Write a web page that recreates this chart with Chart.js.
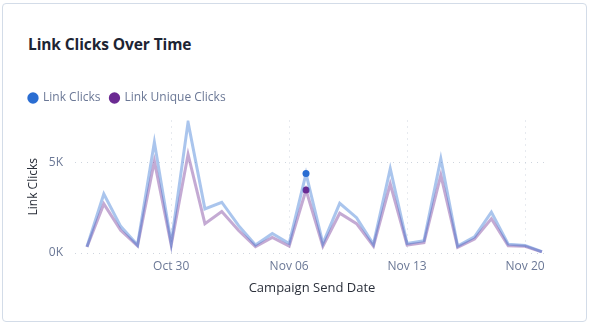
<!DOCTYPE html>
<html>
<head>
<meta charset="utf-8">
<script src="https://cdn.jsdelivr.net/npm/chart.js@4.4.1/dist/chart.umd.min.js"></script>
<style>
  html, body { margin: 0; padding: 0; background: #fff; }
  body { width: 590px; height: 327px; position: relative; overflow: hidden; font-family: "Open Sans", sans-serif; }
  .card {
    position: absolute; left: 2px; top: 3px; width: 583px; height: 317px;
    border: 1px solid #d3dce8; border-radius: 4px; background: #fff;
  }
  .card h3 {
    position: absolute; left: 25px; top: 29px; margin: 0;
    font-size: 15.5px; font-weight: 700; color: #1d2433; letter-spacing: -0.1px;
  }
  #chartBox { position: absolute; left: 0; top: 0; width: 590px; height: 327px; }
</style>
</head>
<body>
<div class="card"><h3>Link Clicks Over Time</h3></div>
<div id="chartBox"><canvas id="clicksChart"></canvas></div>
<script>
// daily campaign send dates
const dates = [
  'Oct 25', 'Oct 26', 'Oct 27', 'Oct 28', 'Oct 29', 'Oct 30', 'Oct 31',
  'Nov 01', 'Nov 02', 'Nov 03', 'Nov 04', 'Nov 05', 'Nov 06', 'Nov 07',
  'Nov 08', 'Nov 09', 'Nov 10', 'Nov 11', 'Nov 12', 'Nov 13', 'Nov 14',
  'Nov 15', 'Nov 16', 'Nov 17', 'Nov 18', 'Nov 19', 'Nov 20', 'Nov 21'
];
const linkClicks = [
  350, 3280, 1480, 440, 6150, 550, 7270,
  2450, 2820, 1520, 440, 1080, 530, 4410,
  530, 2760, 1960, 480, 4690, 530, 680,
  5240, 380, 900, 2270, 490, 420, 70
];
const uniqueClicks = [
  330, 2730, 1260, 400, 5100, 440, 5480,
  1630, 2310, 1250, 350, 860, 380, 3500,
  380, 2210, 1630, 380, 3830, 440, 570,
  4320, 310, 770, 1900, 400, 370, 60
];
const xTickLabels = ['Oct 30', 'Nov 06', 'Nov 13', 'Nov 20'];
const yTicks = [0, 5000];
const hoverDate = 'Nov 07';

const hoverIndex = dates.indexOf(hoverDate);
const tickIndexes = xTickLabels.map(d => dates.indexOf(d));

const toPoints = arr => arr.map((v, i) => ({ x: i, y: v }));

function lineSet(label, values, solid, faded) {
  return {
    label: label,
    data: toPoints(values),
    borderColor: faded,
    backgroundColor: solid,
    borderWidth: 3,
    tension: 0,
    pointRadius: ctx => ctx.dataIndex === hoverIndex ? 3.5 : 0,
    pointBackgroundColor: solid,
    pointBorderWidth: 0,
    pointStyle: 'circle'
  };
}

// push the plot a little further below the legend
const legendGap = {
  id: 'legendGap',
  beforeInit(chart) {
    const fit = chart.legend.fit;
    chart.legend.fit = function () {
      fit.bind(chart.legend)();
      this.height += 6.5;
    };
  }
};

const gridDots = '#cfd5de';
const tickColor = '#6b7896';
const titleColor = '#2a2f3a';

new Chart(document.getElementById('clicksChart'), {
  type: 'line',
  data: {
    datasets: [
      lineSet('Link Clicks', linkClicks, '#2a6dd2', 'rgba(42,109,210,0.4)'),
      lineSet('Link Unique Clicks', uniqueClicks, '#6b2a92', 'rgba(107,42,146,0.4)')
    ]
  },
  options: {
    responsive: true,
    maintainAspectRatio: false,
    animation: false,
    layout: { padding: { left: 19, right: 41, top: 82, bottom: 31 } },
    plugins: {
      legend: {
        align: 'start',
        labels: {
          usePointStyle: true,
          pointStyle: 'circle',
          boxWidth: 8,
          boxHeight: 8,
          padding: 10,
          color: tickColor,
          font: { family: 'Open Sans', size: 12 }
        }
      },
      tooltip: { enabled: false }
    },
    scales: {
      x: {
        type: 'linear',
        min: -0.71,
        max: 27.42,
        afterBuildTicks: scale => { scale.ticks = tickIndexes.map(v => ({ value: v })); },
        afterFit: scale => { scale.height = 43; },
        ticks: {
          callback: v => dates[v],
          color: tickColor,
          padding: 6,
          maxRotation: 0,
          font: { family: 'Open Sans', size: 12 }
        },
        grid: { color: gridDots, drawTicks: false, lineWidth: 1 },
        border: { display: false, dash: [1, 5] },
        title: {
          display: true,
          text: 'Campaign Send Date',
          color: titleColor,
          padding: { top: 6, bottom: 0 },
          font: { family: 'Open Sans', size: 13 }
        }
      },
      y: {
        min: 0,
        max: 7360,
        afterBuildTicks: scale => { scale.ticks = yTicks.map(v => ({ value: v })); },
        afterFit: scale => { scale.width = 56; },
        ticks: {
          callback: v => (v / 1000) + 'K',
          color: tickColor,
          padding: 12,
          font: { family: 'Open Sans', size: 12 }
        },
        grid: { color: gridDots, drawTicks: false, lineWidth: 1 },
        border: { display: false, dash: [1, 5] },
        title: {
          display: true,
          text: 'Link Clicks',
          color: titleColor,
          padding: { top: 7, bottom: 0 },
          font: { family: 'Open Sans', size: 12 }
        }
      }
    }
  },
  plugins: [legendGap]
});
</script>
</body>
</html>
